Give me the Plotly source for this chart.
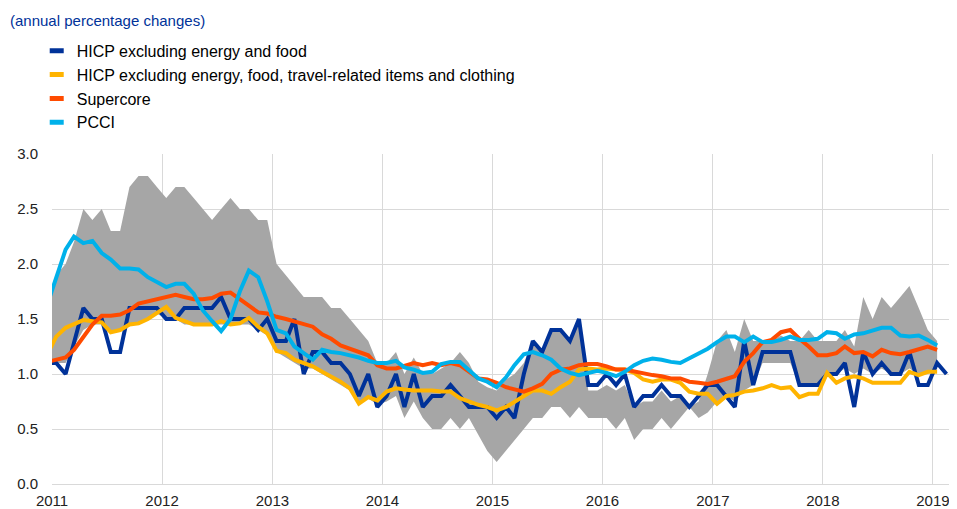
import pandas as pd
import plotly.graph_objects as go

# Monthly observations, Dec 2010 .. Jan 2019 (HICPX to Feb 2019)
months = pd.date_range("2010-12-01", "2019-02-01", freq="MS") + pd.Timedelta(days=14)

hicpx = [1.1,
         1.1, 1.0, 1.3, 1.6, 1.5, 1.5, 1.2, 1.2, 1.6, 1.6, 1.6, 1.6,
         1.5, 1.5, 1.6, 1.6, 1.6, 1.6, 1.7, 1.5, 1.5, 1.5, 1.4, 1.5,
         1.3, 1.3, 1.5, 1.0, 1.2, 1.2, 1.1, 1.1, 1.0, 0.8, 1.0, 0.7,
         0.8, 1.0, 0.7, 1.0, 0.7, 0.8, 0.8, 0.9, 0.8, 0.7, 0.7, 0.7,
         0.6, 0.7, 0.6, 1.0, 1.3, 1.2, 1.4, 1.4, 1.3, 1.5, 0.9, 0.9,
         1.0, 0.9, 1.0, 0.7, 0.8, 0.8, 0.9, 0.8, 0.8, 0.7, 0.8, 0.9,
         0.9, 0.8, 0.7, 1.3, 0.9, 1.2, 1.2, 1.2, 1.2, 0.9, 0.9, 0.9,
         1.0, 1.0, 1.1, 0.7, 1.2, 1.0, 1.1, 1.0, 1.0, 1.2, 0.9, 0.9,
         1.1, 1.0]

hicpx_excl = [1.17,
              1.34, 1.42, 1.45, 1.49, 1.48, 1.47, 1.38, 1.40, 1.45, 1.46, 1.50, 1.55,
              1.61, 1.51, 1.48, 1.45, 1.45, 1.45, 1.48, 1.45, 1.46, 1.51, 1.43, 1.37,
              1.21, 1.19, 1.13, 1.10, 1.07, 1.02, 0.98, 0.93, 0.87, 0.73, 0.79, 0.76,
              0.84, 0.87, 0.86, 0.85, 0.85, 0.85, 0.84, 0.84, 0.78, 0.75, 0.72, 0.70,
              0.67, 0.70, 0.75, 0.80, 0.85, 0.85, 0.82, 0.88, 0.93, 1.04, 1.05, 1.04,
              1.05, 1.04, 1.04, 1.01, 0.95, 0.93, 0.95, 0.95, 0.92, 0.84, 0.82, 0.82,
              0.73, 0.80, 0.81, 0.84, 0.85, 0.87, 0.90, 0.87, 0.88, 0.79, 0.82, 0.82,
              1.01, 0.92, 0.96, 0.98, 0.96, 0.92, 0.92, 0.92, 0.92, 1.02, 0.99, 1.02,
              1.02]

supercore = [1.11,
             1.13, 1.15, 1.22, 1.33, 1.45, 1.53, 1.53, 1.54, 1.58, 1.64, 1.66, 1.68,
             1.70, 1.72, 1.70, 1.68, 1.68, 1.69, 1.73, 1.74, 1.68, 1.62, 1.56, 1.55,
             1.52, 1.50, 1.48, 1.46, 1.43, 1.36, 1.32, 1.26, 1.23, 1.20, 1.17, 1.08,
             1.05, 1.05, 1.07, 1.10, 1.08, 1.10, 1.08, 1.10, 1.08, 1.02, 0.96, 0.95,
             0.92, 0.88, 0.86, 0.84, 0.87, 0.91, 1.00, 1.04, 1.05, 1.08, 1.09, 1.09,
             1.07, 1.04, 1.04, 1.02, 1.01, 0.99, 0.98, 0.96, 0.96, 0.93, 0.92, 0.91,
             0.93, 0.96, 0.98, 1.11, 1.19, 1.29, 1.31, 1.38, 1.40, 1.32, 1.25, 1.17,
             1.17, 1.19, 1.25, 1.19, 1.20, 1.16, 1.22, 1.19, 1.18, 1.20, 1.23, 1.25,
             1.22]

pcci = [1.62,
        1.88, 2.13, 2.25, 2.19, 2.21, 2.10, 2.04, 1.96, 1.96, 1.95, 1.88, 1.84,
        1.79, 1.82, 1.82, 1.73, 1.58, 1.48, 1.39, 1.50, 1.75, 1.94, 1.88, 1.66,
        1.40, 1.37, 1.25, 1.19, 1.13, 1.22, 1.20, 1.19, 1.17, 1.15, 1.12, 1.10,
        1.10, 1.12, 1.06, 1.04, 1.01, 1.02, 1.09, 1.11, 1.11, 1.04, 0.96, 0.93,
        0.88, 0.97, 1.08, 1.18, 1.20, 1.17, 1.13, 1.05, 1.01, 0.99, 1.01, 1.03,
        1.01, 0.98, 1.02, 1.08, 1.12, 1.14, 1.13, 1.11, 1.10, 1.14, 1.18, 1.23,
        1.29, 1.34, 1.34, 1.29, 1.34, 1.29, 1.29, 1.31, 1.34, 1.31, 1.31, 1.32,
        1.38, 1.37, 1.32, 1.36, 1.37, 1.40, 1.42, 1.42, 1.35, 1.34, 1.35, 1.31,
        1.26]

range_high = [1.6,
              1.9, 2.0, 2.2, 2.5, 2.4, 2.5, 2.3, 2.3, 2.7, 2.8, 2.8, 2.7,
              2.6, 2.7, 2.7, 2.6, 2.5, 2.4, 2.5, 2.6, 2.5, 2.5, 2.4, 2.4,
              2.0, 1.9, 1.8, 1.7, 1.7, 1.7, 1.6, 1.6, 1.5, 1.4, 1.3, 1.1,
              1.1, 1.2, 1.0, 1.15, 1.0, 1.0, 1.05, 1.1, 1.2, 1.1, 0.93, 0.88,
              0.85, 0.95, 1.0, 1.1, 1.3, 1.2, 1.4, 1.4, 1.3, 1.5, 0.85, 0.85,
              0.9, 0.85, 0.9, 0.7, 0.75, 0.75, 0.85, 0.75, 0.8, 0.7, 0.75, 1.0,
              1.3, 1.4, 1.2, 1.5, 1.3, 1.3, 1.3, 1.35, 1.3, 1.3, 1.4, 1.3,
              1.3, 1.3, 1.4, 1.25, 1.7, 1.5, 1.7, 1.6, 1.7, 1.8, 1.6, 1.4,
              1.3]

range_low = [1.1,
             1.1, 1.1, 1.25, 1.4, 1.45, 1.45, 1.4, 1.4, 1.45, 1.45, 1.5, 1.55,
             1.5, 1.5, 1.45, 1.45, 1.45, 1.45, 1.45, 1.45, 1.45, 1.45, 1.4, 1.35,
             1.2, 1.15, 1.1, 1.05, 1.05, 1.0, 0.95, 0.9, 0.85, 0.75, 0.78, 0.72,
             0.75, 0.8, 0.6, 0.75, 0.6, 0.5, 0.5, 0.6, 0.5, 0.6, 0.45, 0.3,
             0.2, 0.3, 0.4, 0.5, 0.6, 0.6, 0.7, 0.7, 0.6, 0.7, 0.6, 0.6,
             0.6, 0.5, 0.6, 0.4, 0.5, 0.5, 0.6, 0.5, 0.6, 0.7, 0.6, 0.65,
             0.75, 0.8, 0.75, 0.85, 0.9, 1.1, 1.1, 1.1, 1.1, 0.9, 0.9, 0.9,
             1.0, 1.0, 1.05, 1.0, 1.05, 1.0, 1.05, 1.0, 1.0, 1.05, 1.0, 1.0,
             1.05]

series_names = ["HICP excluding energy and food",
                "HICP excluding energy, food, travel-related items and clothing",
                "Supercore",
                "PCCI"]
series_values = [hicpx, hicpx_excl, supercore, pcci]
series_colors = ["#003299", "#FFB400", "#FF4B00", "#00B1EA"]

year_ticks = ["2011", "2012", "2013", "2014", "2015", "2016", "2017", "2018", "2019"]

FONT = "Liberation Sans, Arial, sans-serif"

fig = go.Figure()

# grey range band
fig.add_trace(go.Scatter(x=months[:len(range_low)], y=range_low, mode="lines",
                         line=dict(width=0, color="#A6A6A6"), showlegend=False,
                         hoverinfo="skip"))
fig.add_trace(go.Scatter(x=months[:len(range_high)], y=range_high, mode="lines",
                         line=dict(width=0, color="#A6A6A6"), fill="tonexty",
                         fillcolor="#A6A6A6", showlegend=False, hoverinfo="skip"))

for name, vals, col in zip(series_names, series_values, series_colors):
    fig.add_trace(go.Scatter(x=months[:len(vals)], y=vals, mode="lines", name=name,
                             line=dict(color=col, width=4), showlegend=False))

# legend entries (short thick swatches)
for k, (name, col) in enumerate(zip(series_names, series_colors)):
    fig.add_trace(go.Scatter(x=[None], y=[None], mode="markers", name=name,
                             legendgroup=f"g{k}",
                             marker=dict(symbol="line-ew", size=10, color=col,
                                         line=dict(width=6, color=col))))

# the page places the figure 8 px from the top-left corner
fig.update_layout(
    width=949, height=501,
    margin=dict(l=44, r=6, t=146, b=25, autoexpand=False),
    paper_bgcolor="white", plot_bgcolor="white",
    font=dict(family=FONT, size=15, color="#222222"),
    legend=dict(x=-0.017, y=1.364, xanchor="left", yanchor="top",
                traceorder="grouped", tracegroupgap=0,
                font=dict(family=FONT, size=16, color="#000000"),
                bgcolor="rgba(0,0,0,0)", itemclick=False),
    annotations=[dict(text="(annual percentage changes)", xref="paper", yref="paper",
                      x=-0.049, y=1.406, xanchor="left", yanchor="middle",
                      showarrow=False,
                      font=dict(family=FONT, size=15, color="#003299"))],
    xaxis=dict(type="date", range=["2011-01-01", "2019-03-02"],
               tickvals=[f"{y}-01-01" for y in year_ticks], ticktext=year_ticks,
               showgrid=True, gridcolor="#D9D9D9", gridwidth=1,
               showline=True, linecolor="#D9D9D9", linewidth=1,
               ticks="", ticklabelstandoff=3, zeroline=False,
               tickfont=dict(family=FONT, size=15, color="#222222")),
    yaxis=dict(range=[0, 3], dtick=0.5, tick0=0, tickformat=".1f",
               showgrid=True, gridcolor="#D9D9D9", gridwidth=1,
               zeroline=False, showline=False, ticks="", ticklabelstandoff=13,
               tickfont=dict(family=FONT, size=15, color="#222222")),
)

fig.write_html("out.html")
